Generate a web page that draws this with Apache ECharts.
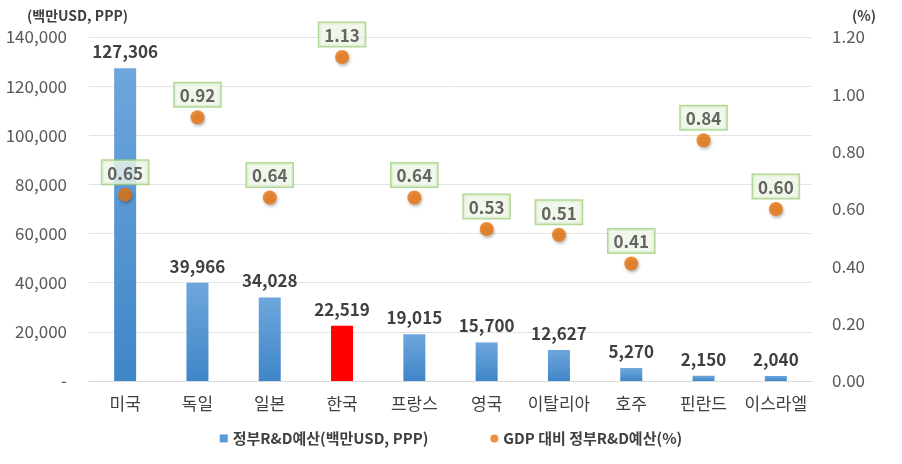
<!DOCTYPE html>
<html><head><meta charset="utf-8">
<script src="https://cdn.jsdelivr.net/npm/echarts@6/dist/echarts.min.js"></script>
<style>html,body{margin:0;padding:0;background:#fff}#c{width:902px;height:464px}</style>
</head><body><div id="c"></div>
<script>
const categories = ['미국','독일','일본','한국','프랑스','영국','이탈리아','호주','핀란드','이스라엘'];
const budget = [127306, 39966, 34028, 22519, 19015, 15700, 12627, 5270, 2150, 2040];
const ratio = [0.65, 0.92, 0.64, 1.13, 0.64, 0.53, 0.51, 0.41, 0.84, 0.60];
const highlight = '한국';

const font = '"Noto Sans CJK KR", "Noto Sans", sans-serif';
const blueGrad = new echarts.graphic.LinearGradient(0,0,0,1,[{offset:0,color:'#6ea6dc'},{offset:1,color:'#3f86c8'}]);
const chart = echarts.init(document.getElementById('c'));
chart.setOption({
  animation:false,
  textStyle:{fontFamily:font},
  grid:{left:89,right:90,top:37,bottom:83},
  title:[
    {text:'(백만USD, PPP)',left:22,top:4,textStyle:{fontSize:14,fontWeight:'bold',color:'#404040',fontFamily:font}},
    {text:'(%)',left:847,top:4,textStyle:{fontSize:14,fontWeight:'bold',color:'#404040',fontFamily:font}}
  ],
  legend:{bottom:13,left:'center',itemGap:62,itemWidth:8,itemHeight:8,
    textStyle:{fontSize:15,fontWeight:'bold',color:'#404040',fontFamily:font},
    data:[{name:'정부R&D예산(백만USD, PPP)',icon:'rect'},{name:'GDP 대비 정부R&D예산(%)',icon:'circle'}]},
  xAxis:{type:'category',data:categories,axisTick:{show:false},
    axisLine:{lineStyle:{color:'#d9d9d9'}},
    axisLabel:{interval:0,fontSize:17,color:'#404040',margin:14,fontFamily:font}},
  yAxis:[
    {type:'value',min:0,max:140000,interval:20000,
     axisLine:{show:false},axisTick:{show:false},
     splitLine:{lineStyle:{color:'#e3e3e3'}},
     axisLabel:{fontSize:17,color:'#595959',margin:22,fontFamily:font,
       formatter:v=>v===0?'-':v.toLocaleString('en-US')}},
    {type:'value',min:0,max:1.2,interval:0.2,
     axisLine:{show:false},axisTick:{show:false},splitLine:{show:false},
     axisLabel:{fontSize:17,color:'#595959',margin:20,fontFamily:font,formatter:v=>v.toFixed(2)}}
  ],
  series:[
    {name:'정부R&D예산(백만USD, PPP)',type:'bar',barWidth:22,
     itemStyle:{color:'#5b9bd5'},
     data:budget.map((v,i)=>({value:v,itemStyle:{color:categories[i]===highlight?'#ff0000':blueGrad}})),
     label:{show:true,position:'top',distance:8,fontSize:17,fontWeight:'bold',color:'#404040',fontFamily:font,
       formatter:p=>p.value.toLocaleString('en-US')}},
    {name:'GDP 대비 정부R&D예산(%)',type:'scatter',yAxisIndex:1,symbolSize:14,
     itemStyle:{color:'#e8730c',shadowColor:'rgba(0,0,0,0.35)',shadowBlur:3,shadowOffsetX:1,shadowOffsetY:2},
     data:ratio,
     label:{show:true,position:'top',distance:4,fontSize:17,fontWeight:'bold',color:'#404040',fontFamily:font,
       backgroundColor:'#eef6e6',borderColor:'#9fd07d',borderWidth:1.5,padding:[4,5,2,5],
       formatter:p=>p.value.toFixed(2)}}
  ]
});
</script></body></html>
